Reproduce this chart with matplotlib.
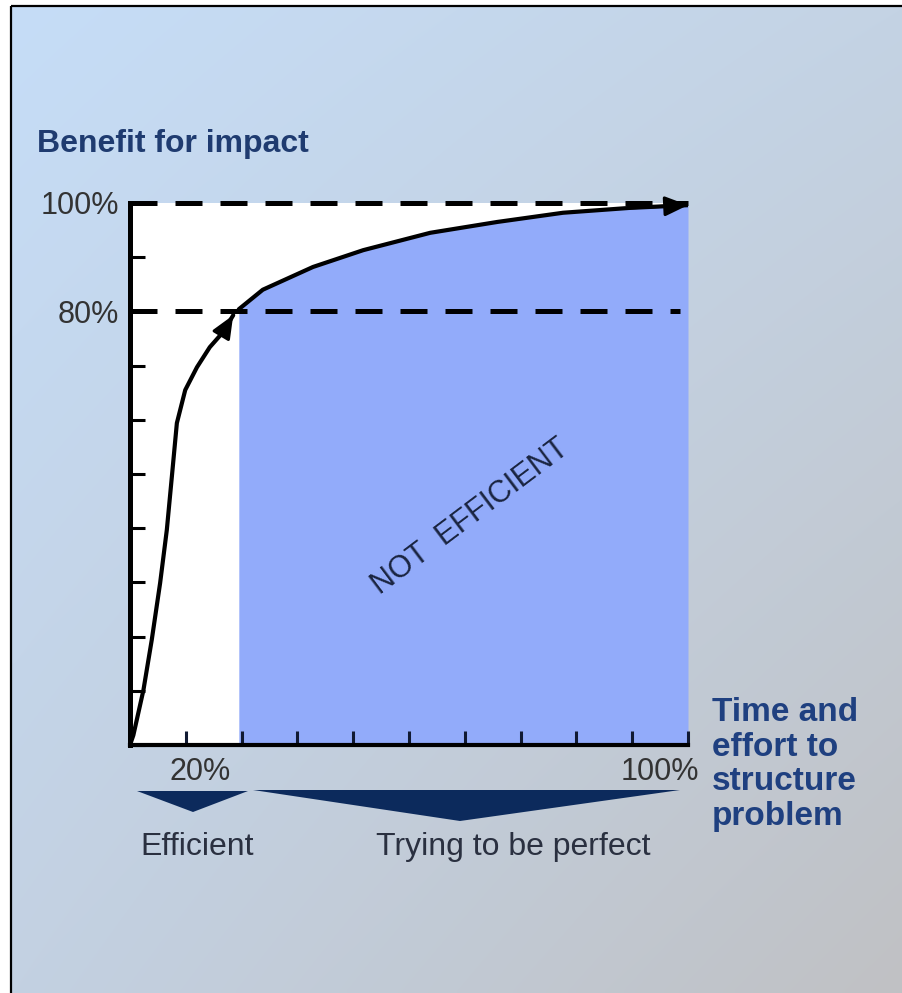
import numpy as np
import matplotlib.pyplot as plt
from matplotlib.patches import Polygon

# curve (x = time/effort %, y = benefit %)
seg1_x = [0, 0.6, 2.4, 3.9, 5.4, 6.6, 7.5, 8.4, 9.9, 12.0, 14.3, 16.7, 18.5]
seg1_y = [0, 1.8, 10.1, 19.4, 29.9, 39.7, 49.5, 59.4, 65.5, 69.7, 73.4, 76.2, 79.3]
seg2_x = [19.5, 23.8, 32.8, 41.8, 53.8, 65.8, 77.6, 89.6, 100]
seg2_y = [80.4, 84.0, 88.2, 91.3, 94.5, 96.5, 98.2, 99.1, 99.6]

tick_vals = list(range(0, 101, 10))
ylabels = {80: '80%', 100: '100%'}
ref_lines = [80, 100]

plt.rcParams['font.family'] = ['Liberation Sans', 'DejaVu Sans']

W, H = 903, 993
fig = plt.figure(figsize=(W / 100, H / 100), dpi=100)
fig.patch.set_facecolor('white')

# background gradient (pixel coordinates)
bg = fig.add_axes([0, 0, 1, 1], zorder=0)
bg.set_xlim(0, W)
bg.set_ylim(H, 0)
bg.axis('off')
tl = np.array([198, 221, 247]) / 255
tr = np.array([196, 211, 228]) / 255
bl = np.array([195, 209, 226]) / 255
br = np.array([192, 193, 196]) / 255
u = np.linspace(0, 1, 200)[None, :, None]
v = np.linspace(0, 1, 200)[:, None, None]
grad = (1 - v) * ((1 - u) * tl + u * tr) + v * ((1 - u) * bl + u * br)
bg.imshow(grad, extent=(12, W, H, 7), aspect='auto', interpolation='bilinear')
bg.plot([11.5, 11.5], [6, H], color='black', lw=1.6, solid_capstyle='butt')
bg.plot([11, W], [6, 6], color='black', lw=1.6, solid_capstyle='butt')

# main chart
ax = fig.add_axes([130 / W, (H - 745) / H, 558 / W, 542 / H], zorder=1)
ax.set_facecolor('white')
ax.set_xlim(0, 100)
ax.set_ylim(0, 100)
for s in ['top', 'right']:
    ax.spines[s].set_visible(False)
ax.spines['left'].set_linewidth(3.6)
ax.spines['bottom'].set_linewidth(3.0)
ax.spines['left'].set_zorder(5)
ax.spines['bottom'].set_zorder(5)

ax.fill_between(seg2_x, 0, seg2_y, color='#92abfa', lw=0, zorder=1)

for yv in ref_lines:
    ax.plot([0, 98.5 if yv < 100 else 100], [yv, yv], color='black', lw=3.6,
            dashes=(5.4, 3.6), clip_on=False, zorder=2)

ax.plot(seg1_x, seg1_y, color='black', lw=3.0, zorder=4,
        solid_capstyle='round', solid_joinstyle='round')
ax.plot(seg2_x, seg2_y, color='black', lw=3.0, zorder=4,
        solid_capstyle='round', solid_joinstyle='round')
arrow = dict(arrowstyle='-|>,head_length=0.7,head_width=0.3', color='black',
             lw=2.2, shrinkA=0, shrinkB=0, mutation_scale=20)
ax.annotate('', xy=(seg1_x[-1], seg1_y[-1]), xytext=(seg1_x[-2], seg1_y[-2]),
            arrowprops=arrow, zorder=4, annotation_clip=False)
ax.annotate('', xy=(seg2_x[-1], seg2_y[-1]), xytext=(seg2_x[-2], seg2_y[-2]),
            arrowprops=arrow, zorder=4, annotation_clip=False)

ax.set_xticks(tick_vals)
ax.set_xticklabels([])
ax.set_yticks(tick_vals)
ax.set_yticklabels([ylabels.get(t, '') for t in tick_vals], fontsize=22,
                   color='#333333')
ax.tick_params(axis='y', direction='in', length=11, width=2.2, pad=8,
               color='black')
ax.tick_params(axis='x', direction='in', length=10, width=2.2, color='#111a33')

ax.text(61, 42, 'NOT  EFFICIENT', rotation=37, ha='center', va='center',
        fontsize=22, color='#1a2440', rotation_mode='anchor',
        family=['Liberation Sans Narrow', 'Liberation Sans', 'DejaVu Sans'],
        zorder=3)

# overlay for labels and brackets (pixel coordinates)
ov = fig.add_axes([0, 0, 1, 1], zorder=3)
ov.set_xlim(0, W)
ov.set_ylim(H, 0)
ov.axis('off')
ov.patch.set_alpha(0)

navy = '#1f3b70'
ov.text(37, 152, 'Benefit for impact', fontsize=23, fontweight='bold',
        color=navy, va='baseline', ha='left')
ov.text(712, 697, 'Time and\neffort to\nstructure\nproblem', fontsize=24,
        fontweight='bold', color='#1f4080', va='top', ha='left',
        linespacing=1.15)
ov.text(200, 780, '20%', fontsize=22, color='#333333', ha='center',
        va='baseline')
ov.text(660, 780, '100%', fontsize=22, color='#333333', ha='center',
        va='baseline')
ov.text(197, 855, 'Efficient', fontsize=23, color='#2a3040', ha='center',
        va='baseline')
ov.text(513, 855, 'Trying to be perfect', fontsize=23, color='#2a3040',
        ha='center', va='baseline')

dark = '#0c2a5c'
ov.add_patch(Polygon([(137, 791), (248, 791), (193, 812)], closed=True,
                     color=dark, lw=0))
ov.add_patch(Polygon([(253, 790), (680, 790), (460, 821)], closed=True,
                     color=dark, lw=0))

fig.savefig('out.png', dpi=100)
